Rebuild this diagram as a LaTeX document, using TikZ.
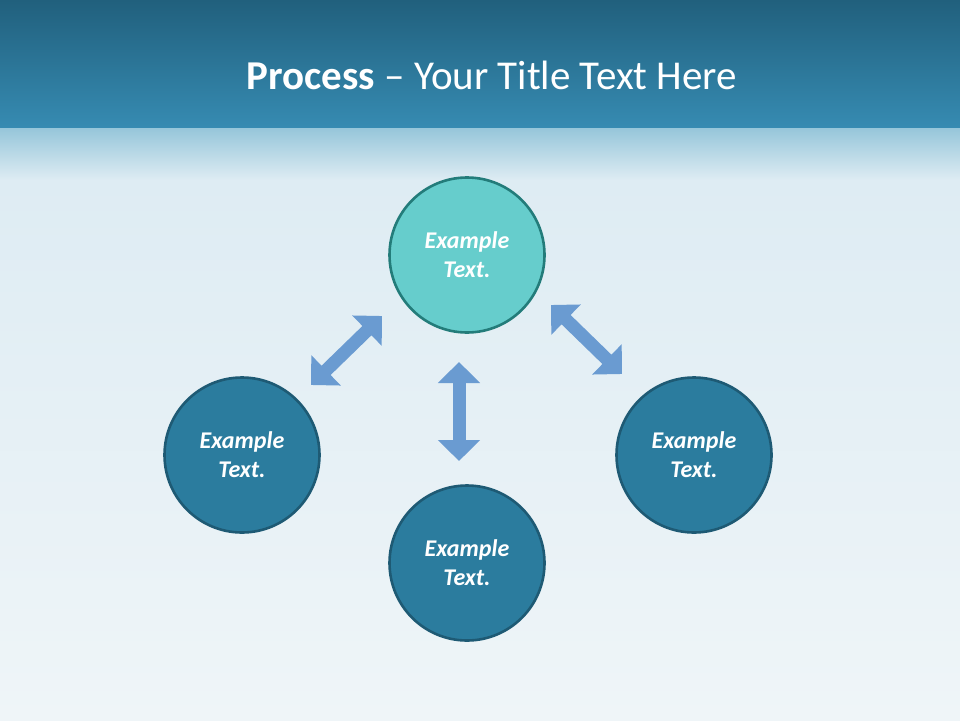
\documentclass[tikz,border=0pt]{standalone}
\usepackage{fontspec}
\setmainfont{Carlito}
\usetikzlibrary{arrows.meta}
\definecolor{bandtop}{HTML}{21607D}
\definecolor{bandbot}{HTML}{368BB2}
\definecolor{skyA}{HTML}{96C6DA}
\definecolor{skyB}{HTML}{DEECF3}
\definecolor{skyC}{HTML}{EFF5F8}
\definecolor{tealfill}{HTML}{66CDCC}
\definecolor{tealline}{HTML}{237C7A}
\definecolor{bluefill}{HTML}{2B7C9E}
\definecolor{blueline}{HTML}{1E5A74}
\definecolor{arrowcol}{HTML}{6A9BD1}
\begin{document}
\begin{tikzpicture}[x=1pt,y=-1pt,
  stepcircle/.style={circle, minimum size=155pt, inner sep=0pt, line width=2.6pt,
    align=center, text=white, font=\fontsize{24}{29}\selectfont\bfseries\itshape},
  topcircle/.style={stepcircle, fill=tealfill, draw=tealline},
  lowcircle/.style={stepcircle, fill=bluefill, draw=blueline},
  blockarrow/.style={draw=arrowcol, line width=13pt,
    {Triangle[width=41pt,length=21pt]}-{Triangle[width=41pt,length=21pt]}}]
\useasboundingbox (0,0) rectangle (960,720);
\shade[top color=bandtop,bottom color=bandbot] (0,0) rectangle (960,128);
\shade[top color=skyA,bottom color=skyB] (0,128) rectangle (960,180);
\shade[top color=skyB,bottom color=skyC] (0,180) rectangle (960,720);
\node[text=white, font=\fontsize{41}{49}\selectfont] (title) at (492,75)
  {\textbf{Process} – Your Title Text Here};
\node[topcircle] (top) at (467,255) {Example\\Text.};
\node[lowcircle] (left) at (242,455) {Example\\Text.};
\node[lowcircle] (right) at (694,455) {Example\\Text.};
\node[lowcircle] (bottom) at (467,563) {Example\\Text.};
\coordinate (la) at (311,385);
\coordinate (lb) at (382,316);
\coordinate (va) at (459,362);
\coordinate (vb) at (459,461);
\coordinate (ra) at (551,305);
\coordinate (rb) at (622,374);
\draw[blockarrow] (la) -- (lb);
\draw[blockarrow] (va) -- (vb);
\draw[blockarrow] (ra) -- (rb);
\end{tikzpicture}
\end{document}
